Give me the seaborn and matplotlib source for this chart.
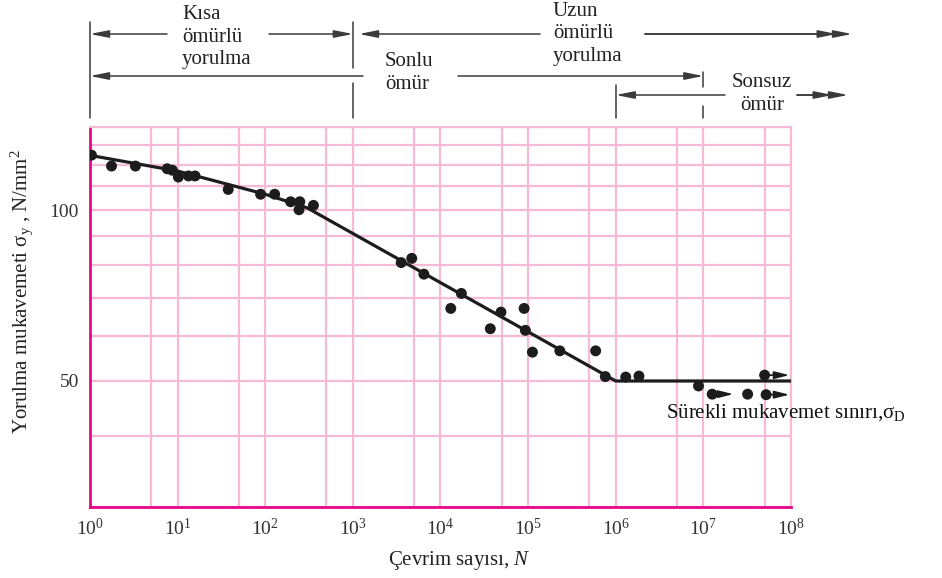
import matplotlib
matplotlib.use("Agg")
import numpy as np
import pandas as pd
import matplotlib.pyplot as plt
from matplotlib import transforms, ticker
import seaborn as sns

# test points (cycles, stress N/mm2)
cycles = [1.04, 1.76, 3.3, 7.6, 8.7, 10.2, 13.3, 15.8, 37.8, 88.5, 128, 195, 248, 243, 355,
          3560, 4700, 6460, 13100, 17300, 37000, 49000, 90000, 93000, 112000,
          230000, 590000, 760000, 1.3e6, 1.84e6, 8.8e6, 1.26e7, 3.2e7, 5.2e7, 5.0e7]
stress = [124.9, 119.5, 119.5, 118.2, 117.5, 114.3, 114.8, 114.8, 108.7, 106.6, 106.6, 103.4, 103.4, 100.1, 101.9,
          80.8, 82.2, 77.1, 67.1, 71.3, 61.8, 66.1, 67.1, 61.4, 56.2,
          56.5, 56.5, 50.9, 50.8, 51.0, 49.0, 47.4, 47.4, 47.3, 51.2]

# run-outs (no failure) -> arrows
runout_from = [1.26e7, 5.2e7, 5.0e7]
runout_to = [2.2e7, 9.6e7, 9.6e7]
runout_stress = [47.4, 47.3, 51.2]

# fitted curve
fit_cycles = [1, 10, 100, 300, 1e6, 1e8]
fit_stress = [124.8, 117.1, 106.6, 100.9, 50, 50]

x_major = [10.0 ** k for k in range(9)]
x_minor = [5 * 10.0 ** k for k in range(8)]
x_labels = [f"$10^{{{k}}}$" for k in range(9)]
y_major = [50, 100]
y_minor = [30, 40, 60, 70, 80, 90, 110, 120, 130, 140]

sns.set_theme(style="white")
plt.rcParams["font.family"] = ["Liberation Serif", "DejaVu Serif"]
plt.rcParams["mathtext.fontset"] = "custom"
plt.rcParams["mathtext.rm"] = "Liberation Serif"
plt.rcParams["mathtext.it"] = "Liberation Serif:italic"

W, H = 942, 578
fig = plt.figure(figsize=(W / 100, H / 100), dpi=100)
ax = fig.add_axes([90 / W, 71 / H, 701 / W, 380 / H])

pink = "#f7bad6"
magenta = "#e8078a"
ink = "#1c1c1c"

df = pd.DataFrame({"N": cycles, "S": stress})
fit = pd.DataFrame({"N": fit_cycles, "S": fit_stress})

ax.set_xscale("log")
ax.set_yscale("log")
sns.lineplot(data=fit, x="N", y="S", ax=ax, color=ink, lw=2.3, sort=False,
             estimator=None, zorder=3)
sns.scatterplot(data=df, x="N", y="S", ax=ax, color=ink, s=62, edgecolor="none",
                zorder=4)
for x0, x1, s in zip(runout_from, runout_to, runout_stress):
    ax.annotate("", xy=(x1, s), xytext=(x0, s),
                arrowprops=dict(arrowstyle="-|>,head_length=0.6,head_width=0.15",
                                color=ink, lw=1.2, mutation_scale=15, shrinkA=0, shrinkB=0),
                zorder=4)

ax.set_xlim(1, 1e8)
ax.set_ylim(30, 140)
ax.xaxis.set_major_locator(ticker.FixedLocator(x_major))
ax.xaxis.set_minor_locator(ticker.FixedLocator(x_minor))
ax.xaxis.set_major_formatter(ticker.FixedFormatter(x_labels))
ax.xaxis.set_minor_formatter(ticker.NullFormatter())
ax.yaxis.set_major_locator(ticker.FixedLocator(y_major))
ax.yaxis.set_minor_locator(ticker.FixedLocator(y_minor))
ax.yaxis.set_major_formatter(ticker.FixedFormatter([str(v) for v in y_major]))
ax.yaxis.set_minor_formatter(ticker.NullFormatter())
ax.grid(True, which="both", color=pink, lw=1.6, zorder=0)
ax.set_axisbelow(True)
ax.tick_params(which="both", length=0, labelsize=14, labelcolor="#333333", pad=8)
ax.set_xlabel("")
ax.set_ylabel("")
for side in ["left", "bottom"]:
    ax.spines[side].set_color(magenta)
    ax.spines[side].set_linewidth(2.0)
for side in ["top", "right"]:
    ax.spines[side].set_color(pink)
    ax.spines[side].set_linewidth(1.6)

fig.text(459 / W, 1 - 560 / H, "Çevrim sayısı, $\\mathit{N}$", ha="center", va="center",
         fontsize=15, color="#222222")
fig.text(22 / W, 1 - 292 / H, "Yorulma mukavemeti $\\mathrm{σ_y}$ , N/mm$^2$", rotation=90,
         ha="center", va="center", fontsize=15, color="#222222")
fig.text(666 / W, 1 - 413 / H, "Sürekli mukavemet sınırı,$\\mathrm{σ_D}$", ha="left",
         va="center", fontsize=15, color="#111111")

# header: regime arrows above the plot (x in data, y in figure)
tr = transforms.blended_transform_factory(ax.transData, fig.transFigure)
grey = "#3a3a3a"
head = "-|>,head_length=0.7,head_width=0.14"


def px2x(px):
    return 10 ** ((px - 90) / 87.625)


def fy(py):
    return 1 - py / H


def vline(x, y0, y1):
    ax.plot([x, x], [fy(y0), fy(y1)], transform=tr, color=grey, lw=1.1, clip_on=False)


def arrow(x0, x1, y, double=False):
    shrinks = [0, 11] if double else [0]
    for sb in shrinks:
        ax.annotate("", xy=(x1, fy(y)), xytext=(x0, fy(y)), xycoords=tr, textcoords=tr,
                    annotation_clip=False,
                    arrowprops=dict(arrowstyle=head, color=grey, lw=1.1, mutation_scale=16,
                                    shrinkA=0, shrinkB=sb))


vline(1, 22, 118)
vline(1e3, 22, 68)
vline(1e3, 83, 118)
vline(1e6, 85, 118)
vline(1e7, 72, 87)
vline(1e7, 106, 118)

arrow(px2x(167), 1, 34)
arrow(px2x(269), 1e3, 34)
arrow(px2x(540), px2x(359), 34)
arrow(px2x(645), px2x(852), 34, double=True)
arrow(px2x(363), 1, 76)
arrow(px2x(458), 1e7, 76)
arrow(px2x(725), 1e6, 95)
arrow(px2x(797), px2x(848), 95, double=True)

hdr = dict(transform=tr, fontsize=15, color="#222222", linespacing=1.28, va="center")
ax.text(px2x(182), fy(37), "Kısa\nömürlü\nyorulma", ha="left", **hdr)
ax.text(px2x(553), fy(34), "Uzun\nömürlü\nyorulma", ha="left", **hdr)
ax.text(px2x(385), fy(73), "Sonlu\nömür", ha="left", **hdr)
ax.text(px2x(762), fy(94), "Sonsuz\nömür", ha="center", **hdr)

fig.savefig("out.png", dpi=100)
